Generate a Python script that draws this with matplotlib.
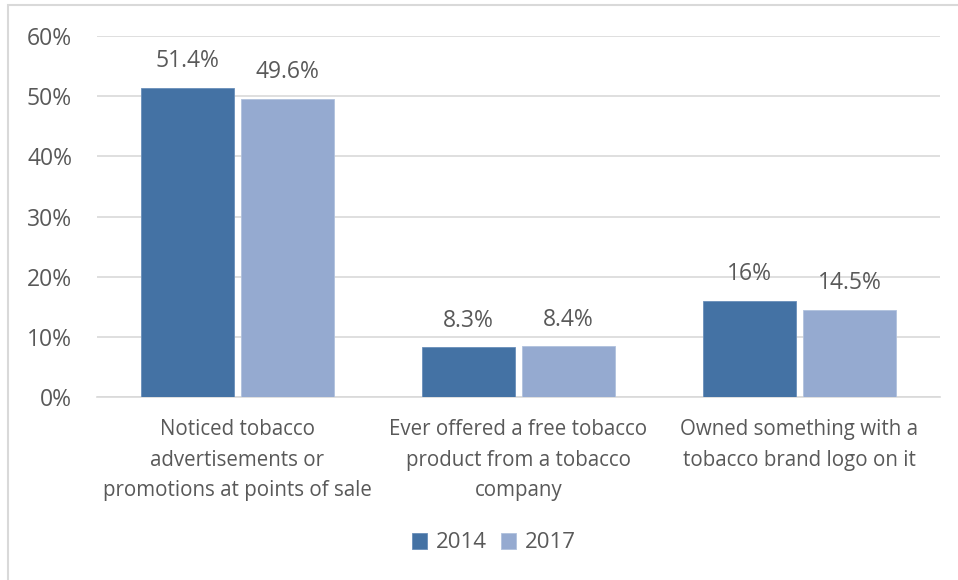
import matplotlib
matplotlib.use("Agg")
import matplotlib.pyplot as plt
from matplotlib.patches import Rectangle
import numpy as np

categories = ["Noticed tobacco\nadvertisements or\npromotions at points of sale",
              "Ever offered a free tobacco\nproduct from a tobacco\ncompany",
              "Owned something with a\ntobacco brand logo on it"]
series_names = ["2014", "2017"]
values_2014 = [51.4, 8.3, 16.0]
values_2017 = [49.6, 8.4, 14.5]
labels_2014 = ["51.4%", "8.3%", "16%"]
labels_2017 = ["49.6%", "8.4%", "14.5%"]
yticks = [0, 10, 20, 30, 40, 50, 60]
ytick_labels = ["0%", "10%", "20%", "30%", "40%", "50%", "60%"]

plt.rcParams['font.family'] = ['Open Sans', 'DejaVu Sans']
text_color = "#595959"
c1 = "#4472A4"
c2 = "#95AAD0"
fs = 16.5

fig = plt.figure(figsize=(9.58, 5.8), dpi=100)
fig.patches.append(Rectangle((8/958, -0.1), 1.2, 1 - 5/580 + 0.1, transform=fig.transFigure,
                             fill=False, edgecolor="#D9D9D9", linewidth=1.5))
ax = fig.add_axes([97/958, 1 - 397/580, (940 - 97)/958, (397 - 36)/580])

x = np.arange(len(categories))
w = 0.328
off = 0.178
b1 = ax.bar(x - off, values_2014, width=w, color=c1, edgecolor="#6A8FBA", linewidth=0.6, label=series_names[0], zorder=3)
b2 = ax.bar(x + off, values_2017, width=w, color=c2, edgecolor="#B0C1DD", linewidth=0.6, label=series_names[1], zorder=3)

for rect, lab in zip(b1, labels_2014):
    ax.annotate(lab, (rect.get_x() + rect.get_width()/2, rect.get_height()), xytext=(0, 19),
                textcoords="offset points", ha="center", va="center", fontsize=fs, color=text_color)
for rect, lab in zip(b2, labels_2017):
    ax.annotate(lab, (rect.get_x() + rect.get_width()/2, rect.get_height()), xytext=(0, 19),
                textcoords="offset points", ha="center", va="center", fontsize=fs, color=text_color)

ax.set_xlim(-0.5, 2.5)
ax.set_ylim(0, 60)
ax.set_yticks(yticks)
ax.set_yticklabels(ytick_labels, fontsize=fs, color=text_color)
ax.set_xticks(x)
ax.set_xticklabels(categories, fontsize=14.8, color=text_color, linespacing=1.6)
ax.tick_params(axis="both", length=0)
ax.tick_params(axis="y", pad=18)
ax.tick_params(axis="x", pad=16)
ax.yaxis.grid(True, color="#D9D9D9", linewidth=1.2, zorder=0)
ax.set_axisbelow(True)
for s in ["top", "right", "left"]:
    ax.spines[s].set_visible(False)
ax.spines["bottom"].set_color("#D9D9D9")
ax.spines["bottom"].set_linewidth(1.2)

leg = fig.legend(loc="center", bbox_to_anchor=(494/958, 1 - 543/580), ncol=2, frameon=False,
                 fontsize=16, handlelength=0.7, handleheight=0.7, handletextpad=0.4, columnspacing=0.6)
for t in leg.get_texts():
    t.set_color(text_color)

fig.savefig("out.png", dpi=100)
